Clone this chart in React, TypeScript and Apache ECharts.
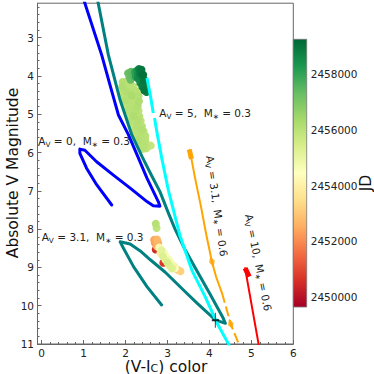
import React, { useEffect, useRef } from 'react';
import * as echarts from 'echarts';

const FONT = 'DejaVu Sans';
const xTickLabels = [0, 1, 2, 3, 4, 5, 6];
const yTickLabels = [3, 4, 5, 6, 7, 8, 9, 10, 11];
const jdTicks = [2450000, 2452000, 2454000, 2456000, 2458000];
const JD_MIN = 2449630;
const JD_MAX = 2459260;
const RDYLGN = ['#a50026', '#d73027', '#f46d43', '#fdae61', '#fee08b', '#ffffbf', '#d9ef8b', '#a6d96a', '#66bd63', '#1a9850', '#006837'];

// Av = 0, M* = 0.3
const blueTrack = [
  [1.0, 2.0], [1.43, 3.45], [1.63, 4.24], [1.83, 5.02], [2.07, 5.54], [2.29, 6.1], [2.51, 6.67],
  [2.78, 7.28], [2.82, 7.4], [2.66, 7.39], [2.51, 7.28], [2.11, 6.93], [1.71, 6.59], [1.31, 6.24],
  [1.03, 5.94], [0.91, 5.91], [0.91, 6.02], [1.07, 6.41], [1.31, 6.84], [1.67, 7.37],
];
// Av = 3.1, M* = 0.3
const tealTrack = [
  [1.33, 2.0], [1.59, 3.45], [1.87, 4.63], [2.15, 5.54], [2.4, 6.12], [2.62, 6.6], [2.82, 7.02],
  [3.01, 7.55], [3.18, 8.0], [3.42, 8.54], [3.66, 9.01], [4.02, 9.71], [4.33, 10.33], [4.38, 10.46],
  [4.14, 10.37], [3.71, 9.94], [3.38, 9.59], [2.94, 9.12], [2.59, 8.8], [2.35, 8.57], [2.11, 8.39],
  [1.87, 8.33], [1.95, 8.5], [2.19, 8.98], [2.51, 9.5], [2.86, 9.98],
];
// Av = 5, M* = 0.3 (two pieces)
const cyanUpper = [[2.51, 4.05], [2.59, 4.5], [2.66, 4.97]];
const cyanLower = [
  [2.69, 5.1], [2.76, 5.54], [2.87, 6.19], [3.02, 6.98], [3.3, 8.18], [3.58, 9.07], [3.9, 9.77],
  [4.18, 10.45], [4.48, 11.05],
];
// Av = 3.1, M* = 0.6
const orangeSolid = [[3.53, 5.93], [3.66, 6.68], [3.8, 7.42], [3.92, 8.12], [4.06, 8.85], [4.16, 9.25], [4.3, 9.67]];
const orangeDashed = [[4.3, 9.67], [4.51, 10.48], [4.72, 11.06]];
const orangeStart = [[3.52, 5.92], [3.57, 6.17]];
const orangeArrows = [[4.06, 8.85], [4.51, 10.48]];
// Av = 10, M* = 0.6
const redTrack = [[4.85, 9.02], [5.18, 11.05]];
const redStart = [[4.85, 9.02], [4.95, 9.24]];
const crossMark = [[4.14, 10.38]];

// observations [V-Ic, Mv, JD]
const bandPts = [
  [1.93, 4.16, 2456100], [2.02, 4.15, 2455900], [2.11, 4.17, 2456000],
  [1.92, 4.28, 2456200], [2.01, 4.27, 2455800], [2.1, 4.29, 2456000], [2.19, 4.28, 2455900],
  [1.94, 4.4, 2455950], [2.03, 4.41, 2456150], [2.12, 4.39, 2455850], [2.22, 4.4, 2456050], [2.3, 4.41, 2455900],
  [1.96, 4.52, 2456000], [2.05, 4.53, 2455800], [2.14, 4.51, 2456250], [2.23, 4.52, 2455900], [2.31, 4.53, 2456100],
  [1.99, 4.64, 2456100], [2.08, 4.65, 2455900], [2.17, 4.63, 2456000], [2.26, 4.64, 2455750], [2.32, 4.66, 2456200],
  [2.02, 4.77, 2455850], [2.11, 4.78, 2456050], [2.2, 4.76, 2455950], [2.29, 4.78, 2456150],
  [2.06, 4.9, 2456000], [2.15, 4.91, 2455800], [2.24, 4.89, 2456100], [2.31, 4.91, 2455950],
  [2.11, 5.03, 2455900], [2.19, 5.04, 2456200], [2.27, 5.02, 2455850], [2.33, 5.05, 2456000],
  [2.15, 5.16, 2456050], [2.23, 5.17, 2455950], [2.31, 5.15, 2456150], [2.36, 5.17, 2455900],
  [2.19, 5.29, 2455850], [2.27, 5.3, 2456100], [2.35, 5.28, 2455950], [2.39, 5.31, 2456000],
  [2.22, 5.42, 2456000], [2.31, 5.43, 2455800], [2.39, 5.41, 2456150], [2.43, 5.44, 2455900],
  [2.26, 5.55, 2455950], [2.35, 5.56, 2456050], [2.43, 5.54, 2455850], [2.47, 5.56, 2456000],
  [2.3, 5.68, 2456100], [2.39, 5.69, 2455900], [2.47, 5.67, 2456000],
  [2.36, 5.8, 2455950], [2.44, 5.81, 2456050], [2.51, 5.79, 2455850],
  [2.42, 5.9, 2456000], [2.5, 5.89, 2455900], [2.6, 5.82, 2455800],
];
const midGreenPts = [
  [2.06, 3.93, 2457300], [2.13, 3.89, 2457400], [2.09, 4.02, 2457250], [2.17, 3.98, 2457450], [2.12, 4.1, 2457350],
];
const darkGreenPts = [
  [2.22, 3.9, 2458000], [2.24, 4.02, 2458100],
  [2.27, 3.86, 2458300], [2.32, 3.82, 2458800], [2.38, 3.84, 2459000], [2.29, 3.96, 2458500],
  [2.35, 3.94, 2458900], [2.42, 3.97, 2459100], [2.3, 4.07, 2458600], [2.38, 4.06, 2458700],
  [2.44, 4.1, 2459000], [2.35, 4.18, 2458600], [2.42, 4.2, 2458900], [2.4, 4.28, 2458800],
  [2.46, 4.3, 2458700], [2.45, 4.38, 2458950], [2.5, 4.42, 2458750],
];
const lowerPts = [
  [2.72, 7.86, 2456050], [2.74, 7.97, 2455900],
  [2.68, 8.28, 2452400], [2.75, 8.27, 2452700], [2.7, 8.37, 2452300], [2.78, 8.36, 2452600], [2.74, 8.45, 2452500],
  [2.72, 8.53, 2450500], [2.9, 8.88, 2450700],
  [2.8, 8.48, 2454200], [2.86, 8.55, 2455100], [2.83, 8.63, 2453900], [2.92, 8.62, 2454600],
  [2.89, 8.71, 2455300], [2.97, 8.72, 2454300], [2.95, 8.8, 2455000], [3.03, 8.8, 2454700],
  [3.0, 8.88, 2455400], [3.08, 8.88, 2454500], [3.05, 8.96, 2455200], [3.13, 8.96, 2454800],
  [3.11, 9.03, 2455300], [3.18, 9.02, 2454400],
  [3.16, 8.98, 2453300], [3.24, 9.06, 2453000], [3.31, 9.1, 2453200],
];

const minorTicks = (a: number, b: number, step: number) => {
  const out: number[] = [];
  for (let v = a; v <= b + 1e-9; v += step) out.push(Math.round(v * 100) / 100);
  return out;
};

const richStyles = (size: number, color = '#222') => ({
  n: { fill: color, fontSize: size, fontFamily: FONT, lineHeight: Math.round(size * 1.35) },
  s: { fill: color, fontSize: size * 0.7, fontFamily: FONT, verticalAlign: 'bottom', lineHeight: Math.round(size * 0.6) },
});
const modelLabel = (av: string, m: string) => `{n|A}{s|V}{n| = ${av},  M}{s|∗}{n| = ${m}}`;

const lineSeries = (data: number[][], color: string, width: number, type: any = 'solid', cap = 'round') => ({
  type: 'line',
  data,
  xAxisIndex: 0,
  yAxisIndex: 0,
  symbol: 'none',
  silent: true,
  lineStyle: { color, width, type, cap, join: 'round' },
  z: 3,
});

export default function App() {
  const ref = useRef<HTMLDivElement>(null);
  useEffect(() => {
    if (!ref.current) return;
    const chart = echarts.init(ref.current, null, { renderer: 'svg', width: 374, height: 374 });
    const pts = [...bandPts, ...midGreenPts, ...darkGreenPts, ...lowerPts].sort((a, b) => a[2] - b[2]);
    const axisColor = '#666';
    const labelStyle = { fontSize: 10.5, color: '#222', fontFamily: FONT, lineHeight: 11 };
    const option: any = {
      animation: false,
      backgroundColor: '#fff',
      grid: [
        { left: 37.5, top: 3.2, width: 255.8, height: 340.8, show: true, borderColor: axisColor, borderWidth: 1 },
        { left: 293.3, top: 39.3, width: 13.4, height: 267.7, show: false },
      ],
      xAxis: [
        {
          gridIndex: 0, type: 'value', min: -0.1, max: 6, position: 'bottom',
          axisLine: { show: true, onZero: false, lineStyle: { color: axisColor } },
          axisTick: { show: true, inside: true, length: 4, customValues: xTickLabels, lineStyle: { color: axisColor } },
          axisLabel: { ...labelStyle, margin: 3, customValues: xTickLabels },
          splitLine: { show: false },
        },
        {
          gridIndex: 0, type: 'value', min: -0.1, max: 6, position: 'bottom',
          axisLine: { show: false, onZero: false },
          axisTick: { show: true, inside: true, length: 2, customValues: minorTicks(0, 6, 0.2), lineStyle: { color: axisColor } },
          axisLabel: { show: false },
          splitLine: { show: false },
        },
        { gridIndex: 1, type: 'value', min: 0, max: 1, show: false },
      ],
      yAxis: [
        {
          gridIndex: 0, type: 'value', inverse: true, min: 2.1, max: 11, position: 'left',
          axisLine: { show: true, onZero: false, lineStyle: { color: axisColor } },
          axisTick: { show: true, inside: true, length: 4, customValues: yTickLabels, lineStyle: { color: axisColor } },
          axisLabel: { ...labelStyle, margin: 3.5, customValues: yTickLabels },
          splitLine: { show: false },
        },
        {
          gridIndex: 0, type: 'value', inverse: true, min: 2.1, max: 11, position: 'left',
          axisLine: { show: false, onZero: false },
          axisTick: { show: true, inside: true, length: 2, customValues: minorTicks(2.2, 11, 0.2), lineStyle: { color: axisColor } },
          axisLabel: { show: false },
          splitLine: { show: false },
        },
        {
          gridIndex: 1, type: 'value', min: JD_MIN, max: JD_MAX, position: 'right',
          axisLine: { show: false },
          axisTick: { show: true, length: 3.5, customValues: jdTicks, lineStyle: { color: '#444' } },
          axisLabel: { ...labelStyle, margin: 4, customValues: jdTicks, formatter: (v: number) => String(v) },
          splitLine: { show: false },
        },
      ],
      visualMap: {
        type: 'continuous', show: false, seriesIndex: 0, dimension: 2,
        min: JD_MIN, max: JD_MAX, inRange: { color: RDYLGN },
      },
      series: [
        {
          type: 'scatter', xAxisIndex: 0, yAxisIndex: 0, data: pts, symbolSize: 8, silent: true, z: 2,
          itemStyle: { opacity: 1 },
        },
        lineSeries(blueTrack, '#0000ff', 3),
        lineSeries(tealTrack, '#008080', 3),
        lineSeries(cyanUpper, '#00ffff', 3, 'solid', 'butt'),
        lineSeries(cyanLower, '#00ffff', 3, 'solid', 'butt'),
        lineSeries(orangeSolid, '#ffa500', 2),
        lineSeries(orangeDashed, '#ffa500', 2, [10, 4], 'butt'),
        lineSeries(orangeStart, '#ffa500', 5, 'solid', 'butt'),
        lineSeries(redTrack, '#ff0000', 2),
        lineSeries(redStart, '#ff0000', 5, 'solid', 'butt'),
        {
          type: 'scatter', xAxisIndex: 0, yAxisIndex: 0, data: orangeArrows, symbol: 'diamond',
          symbolSize: [6, 11], symbolRotate: 18, silent: true, z: 4, itemStyle: { color: '#ffa500' },
        },
        {
          type: 'scatter', xAxisIndex: 0, yAxisIndex: 0, data: crossMark,
          symbol: 'path://M4 0 L4 16 M0 8 L8 8', symbolSize: [7, 15], silent: true, z: 5,
          itemStyle: { color: 'none', borderColor: '#000', borderWidth: 1.3 },
        },
        {
          type: 'custom', xAxisIndex: 2, yAxisIndex: 2, data: [[0.5, JD_MIN]], silent: true,
          renderItem: (params: any) => {
            const cs = params.coordSys;
            return {
              type: 'rect',
              shape: { x: cs.x, y: cs.y, width: cs.width, height: cs.height },
              style: {
                fill: new echarts.graphic.LinearGradient(0, 1, 0, 0,
                  RDYLGN.map((c, i) => ({ offset: i / (RDYLGN.length - 1), color: c }))),
                stroke: '#777', lineWidth: 0.8,
              },
            };
          },
        },
      ],
      graphic: [
        { type: 'text', x: 38.3, y: 140.7, z: 10, style: { text: modelLabel('0', '0.3'), rich: richStyles(10.5), align: 'left', verticalAlign: 'middle' } },
        { type: 'text', x: 159.3, y: 113.3, z: 10, style: { text: modelLabel('5', '0.3'), rich: richStyles(10.5), align: 'left', verticalAlign: 'middle' } },
        { type: 'text', x: 41.7, y: 236.7, z: 10, style: { text: modelLabel('3.1', '0.3'), rich: richStyles(10.5), align: 'left', verticalAlign: 'middle' } },
        { type: 'text', x: 217, y: 206, rotation: -1.431, z: 10, style: { text: modelLabel('3.1', '0.6'), rich: richStyles(10.5), align: 'center', verticalAlign: 'middle' } },
        { type: 'text', x: 258.5, y: 262.5, rotation: -1.373, z: 10, style: { text: modelLabel('10', '0.6'), rich: richStyles(10.5), align: 'center', verticalAlign: 'middle' } },
        { type: 'text', x: 12.5, y: 173, rotation: Math.PI / 2, z: 10, style: { text: 'Absolute V Magnitude', fill: '#111', fontSize: 15.5, fontFamily: FONT, align: 'center', verticalAlign: 'middle' } },
        { type: 'text', x: 166, y: 366.5, z: 10, style: { text: '{n|(V-I}{s|C}{n|) color}', rich: {
          n: { fill: '#111', fontSize: 15.5, fontFamily: FONT, lineHeight: 15 },
          s: { fill: '#111', fontSize: 11, fontFamily: FONT, verticalAlign: 'bottom', lineHeight: 6 },
        }, align: 'center', verticalAlign: 'middle' } },
        { type: 'text', x: 366, y: 183, rotation: Math.PI / 2, z: 10, style: { text: 'JD', fill: '#111', fontSize: 15.5, fontFamily: FONT, align: 'center', verticalAlign: 'middle' } },
      ],
    };
    chart.setOption(option);
    return () => chart.dispose();
  }, []);
  return <div ref={ref} style={{ position: 'fixed', left: 0, top: 0, width: 374, height: 374, background: '#fff' }} />;
}
